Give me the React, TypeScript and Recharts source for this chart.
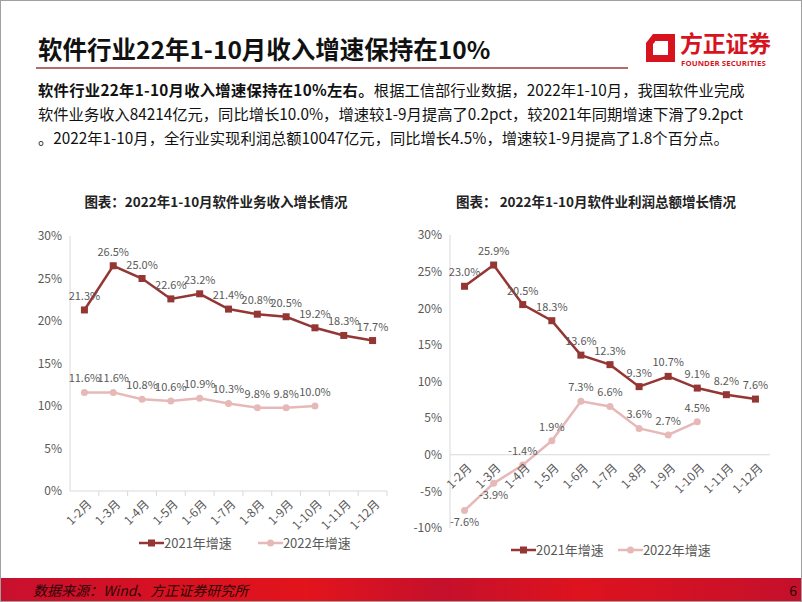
import React from 'react';
import {
  Legend,
  Line,
  LineChart,
  LabelList,
  ReferenceLine,
  XAxis,
  YAxis,
} from 'recharts';

const months = ['1-2月', '1-3月', '1-4月', '1-5月', '1-6月', '1-7月', '1-8月', '1-9月', '1-10月', '1-11月', '1-12月'];

// 软件业务收入增速 (%)
const revenue2021 = [21.3, 26.5, 25.0, 22.6, 23.2, 21.4, 20.8, 20.5, 19.2, 18.3, 17.7];
const revenue2022 = [11.6, 11.6, 10.8, 10.6, 10.9, 10.3, 9.8, 9.8, 10.0, null, null];

// 利润总额增速 (%)
const profit2021 = [23.0, 25.9, 20.5, 18.3, 13.6, 12.3, 9.3, 10.7, 9.1, 8.2, 7.6];
const profit2022 = [-7.6, -3.9, -1.4, 1.9, 7.3, 6.6, 3.6, 2.7, 4.5, null, null];

const revenueTicks = [0, 5, 10, 15, 20, 25, 30];
const profitTicks = [-10, -5, 0, 5, 10, 15, 20, 25, 30];

const seriesNames = ['2021年增速', '2022年增速'];

const revenueData = months.map((m, i) => ({ month: m, y2021: revenue2021[i], y2022: revenue2022[i] }));
const profitData = months.map((m, i) => ({ month: m, y2021: profit2021[i], y2022: profit2022[i] }));

const DARK = '#943634';
const PINK = '#E6B9B8';
const GREY = '#595959';
const AXIS = '#D9D9D9';
const CJK = "'Noto Sans CJK SC', 'Noto Sans', sans-serif";
const NUM = "'Liberation Sans Narrow', 'Noto Sans CJK SC', sans-serif";

// layout of the two charts
const REV_W = 380;
const REV_H = 345;
const REV_M = { top: 20, right: 14, left: 0, bottom: 8 };
const PRO_W = 385;
const PRO_H = 350;
const PRO_M = { top: 20, right: 16, left: 0, bottom: 5 };
const Y_W = 49;
const REV_XH = 42;
const PRO_XH = 12;
const LEG_H = 20;

const revStep = (REV_W - REV_M.left - REV_M.right - Y_W) / months.length;
const proStep = (PRO_W - PRO_M.left - PRO_M.right - Y_W) / months.length;
const proPlotH = PRO_H - PRO_M.top - PRO_M.bottom - PRO_XH - LEG_H;
const zeroShift =
  (proPlotH * (0 - profitTicks[0])) / (profitTicks[profitTicks.length - 1] - profitTicks[0]);

const pct = (v: number) => `${v.toFixed(0)}%`;

const SquareDot = (props: any) => {
  const { cx, cy, value, index } = props;
  if (value == null || cx == null) return <g key={`s-${index}`} />;
  return <rect key={`s-${index}`} x={cx - 3.5} y={cy - 3.5} width={7} height={7} fill={DARK} />;
};

const CircleDot = (props: any) => {
  const { cx, cy, value, index } = props;
  if (value == null || cx == null) return <g key={`c-${index}`} />;
  return <circle key={`c-${index}`} cx={cx} cy={cy} r={3.5} fill={PINK} />;
};

const makeLabel = (below: number[]) => (props: any) => {
  const { x, y, value, index } = props;
  if (value == null) return null;
  const down = below.includes(index);
  return (
    <text
      x={x}
      y={down ? y + 16 : y - 10}
      textAnchor="middle"
      fontSize={11}
      fontFamily={NUM}
      fill={GREY}
    >
      {`${Number(value).toFixed(1)}%`}
    </text>
  );
};

const RevTick = (props: any) => {
  const { x, y, payload } = props;
  return (
    <g>
      <line x1={x + revStep / 2} y1={y} x2={x + revStep / 2} y2={y + 5} stroke={AXIS} />
      <g transform={`translate(${x + 5},${y + 11})`}>
        <text textAnchor="end" dy="0.35em" transform="rotate(-45)" fontSize={12} fontFamily={CJK} fill={GREY}>
          {payload.value}
        </text>
      </g>
    </g>
  );
};

const ProTick = (props: any) => {
  const { x, y, payload } = props;
  return (
    <g transform={`translate(${x + 5},${y - zeroShift + 11})`}>
      <text textAnchor="end" dy="0.35em" transform="rotate(-45)" fontSize={12} fontFamily={CJK} fill={GREY}>
        {payload.value}
      </text>
    </g>
  );
};

const LegendContent = ({ gap }: { gap: number }) => (
  <div style={{ display: 'flex', alignItems: 'center', fontSize: 13, color: GREY, fontFamily: CJK, lineHeight: '20px' }}>
    <svg width={25} height={10}>
      <line x1={0} y1={5} x2={25} y2={5} stroke={DARK} strokeWidth={2.5} />
      <rect x={9} y={1.5} width={7} height={7} fill={DARK} />
    </svg>
    <span style={{ marginRight: gap }}>{seriesNames[0]}</span>
    <svg width={25} height={10}>
      <line x1={0} y1={5} x2={25} y2={5} stroke={PINK} strokeWidth={2.5} />
      <circle cx={12.5} cy={5} r={3.5} fill={PINK} />
    </svg>
    <span>{seriesNames[1]}</span>
  </div>
);

const yTick = { fontSize: 12, fill: GREY, fontFamily: NUM };

const RevenueChart = () => (
  <LineChart width={REV_W} height={REV_H} data={revenueData} margin={REV_M}>
    <XAxis
      dataKey="month"
      height={REV_XH}
      interval={0}
      tickSize={0}
      tickMargin={0}
      padding={{ left: revStep / 2, right: revStep / 2 }}
      tick={<RevTick />}
      axisLine={{ stroke: AXIS }}
    />
    <YAxis
      width={Y_W}
      domain={[0, 30]}
      ticks={revenueTicks}
      tickFormatter={pct}
      tickLine={false}
      axisLine={{ stroke: AXIS }}
      tick={yTick}
    />
    <Legend
      verticalAlign="bottom"
      height={LEG_H}
      wrapperStyle={{ left: 118, width: 'auto' }}
      content={() => <LegendContent gap={26} />}
    />
    <Line dataKey="y2021" name={seriesNames[0]} stroke={DARK} strokeWidth={2.5} dot={<SquareDot />} isAnimationActive={false}>
      <LabelList dataKey="y2021" content={makeLabel([])} />
    </Line>
    <Line dataKey="y2022" name={seriesNames[1]} stroke={PINK} strokeWidth={2.5} dot={<CircleDot />} isAnimationActive={false}>
      <LabelList dataKey="y2022" content={makeLabel([])} />
    </Line>
  </LineChart>
);

const ProfitChart = () => (
  <LineChart width={PRO_W} height={PRO_H} data={profitData} margin={PRO_M}>
    <XAxis
      dataKey="month"
      height={PRO_XH}
      interval={0}
      tickSize={0}
      tickMargin={0}
      padding={{ left: proStep / 2, right: proStep / 2 }}
      tick={<ProTick />}
      axisLine={false}
    />
    <YAxis
      width={Y_W}
      domain={[-10, 30]}
      ticks={profitTicks}
      tickFormatter={pct}
      tickLine={false}
      axisLine={{ stroke: AXIS }}
      tick={yTick}
    />
    <ReferenceLine y={0} stroke={AXIS} />
    <Legend
      verticalAlign="bottom"
      height={LEG_H}
      wrapperStyle={{ left: 110, width: 'auto' }}
      content={() => <LegendContent gap={14} />}
    />
    <Line dataKey="y2021" name={seriesNames[0]} stroke={DARK} strokeWidth={2.5} dot={<SquareDot />} isAnimationActive={false}>
      <LabelList dataKey="y2021" content={makeLabel([])} />
    </Line>
    <Line dataKey="y2022" name={seriesNames[1]} stroke={PINK} strokeWidth={2.5} dot={<CircleDot />} isAnimationActive={false}>
      <LabelList dataKey="y2022" content={makeLabel([0, 1])} />
    </Line>
  </LineChart>
);

const Logo = () => (
  <div style={{ position: 'absolute', left: 645, top: 32 }}>
    <svg width={30} height={30} style={{ position: 'absolute', left: 0, top: 1 }}>
      <path
        d="M7,0 H29 V28 H0 V9 Z M9,7 V8 L7,10 V21 H22 V7 Z"
        fill="#D7141E"
        fillRule="evenodd"
      />
    </svg>
    <div style={{ position: 'absolute', left: 34, top: -7, fontSize: 23, fontWeight: 700, color: '#D7141E', fontFamily: CJK, whiteSpace: 'nowrap', letterSpacing: -0.3, lineHeight: '32px' }}>
      方正证券
    </div>
    <div style={{ position: 'absolute', left: 35, top: 25, fontSize: 7.8, fontWeight: 700, color: '#D7141E', fontFamily: "'Open Sans', sans-serif", whiteSpace: 'nowrap', lineHeight: '10px', letterSpacing: 0.1 }}>
      FOUNDER SECURITIES
    </div>
  </div>
);

const bodyLine: React.CSSProperties = {
  position: 'absolute',
  left: 37,
  fontSize: 15.3,
  fontFamily: CJK,
  color: '#111',
  whiteSpace: 'nowrap',
  lineHeight: '20px',
};

export default function App() {
  return (
    <div
      style={{
        position: 'absolute',
        left: 0,
        top: 0,
        width: 802,
        height: 602,
        boxSizing: 'border-box',
        border: '1px solid #a0a0a0',
        background: '#fff',
        overflow: 'hidden',
        fontFamily: CJK,
      }}
    >
      <div style={{ position: 'absolute', left: 37, top: 30, fontSize: 24.5, fontWeight: 700, color: '#111', whiteSpace: 'nowrap' }}>
        软件行业22年1-10月收入增速保持在10%
      </div>
      <div style={{ position: 'absolute', left: 35, top: 66, width: 592, height: 2, background: '#B66A6A' }} />
      <Logo />

      <div style={{ ...bodyLine, top: 78 }}>
        <b style={{ letterSpacing: 0.3 }}>软件行业22年1-10月收入增速保持在10%左右。</b>根据工信部行业数据，2022年1-10月，我国软件业完成
      </div>
      <div style={{ ...bodyLine, top: 102 }}>
        软件业务收入84214亿元，同比增长10.0%，增速较1-9月提高了0.2pct，较2021年同期增速下滑了9.2pct
      </div>
      <div style={{ ...bodyLine, top: 126 }}>
        。2022年1-10月，全行业实现利润总额10047亿元，同比增长4.5%，增速较1-9月提高了1.8个百分点。
      </div>

      <div style={{ position: 'absolute', left: 20, width: 390, top: 190, textAlign: 'center', fontSize: 13.5, fontWeight: 700, color: '#222' }}>
        图表：2022年1-10月软件业务收入增长情况
      </div>
      <div style={{ position: 'absolute', left: 400, width: 390, top: 190, textAlign: 'center', fontSize: 13.5, fontWeight: 700, color: '#222' }}>
        图表： 2022年1-10月软件业利润总额增长情况
      </div>

      <div style={{ position: 'absolute', left: 20, top: 215 }}>
        <RevenueChart />
      </div>
      <div style={{ position: 'absolute', left: 400, top: 214 }}>
        <ProfitChart />
      </div>

      <div
        style={{
          position: 'absolute',
          left: 0,
          top: 577,
          width: 802,
          height: 25,
          background:
            'linear-gradient(90deg, #C8102E 0%, #DA1220 25%, #E2141C 38%, #C5102C 55%, #DE131E 72%, #C4102C 100%)',
        }}
      >
        <div style={{ position: 'absolute', left: 32, top: 2, fontSize: 14, fontStyle: 'italic', color: '#2a0606', whiteSpace: 'nowrap' }}>
          数据来源：Wind、方正证券研究所
        </div>
        <div style={{ position: 'absolute', right: 6, top: 2, fontSize: 14, color: '#2a0606' }}>6</div>
      </div>
    </div>
  );
}
